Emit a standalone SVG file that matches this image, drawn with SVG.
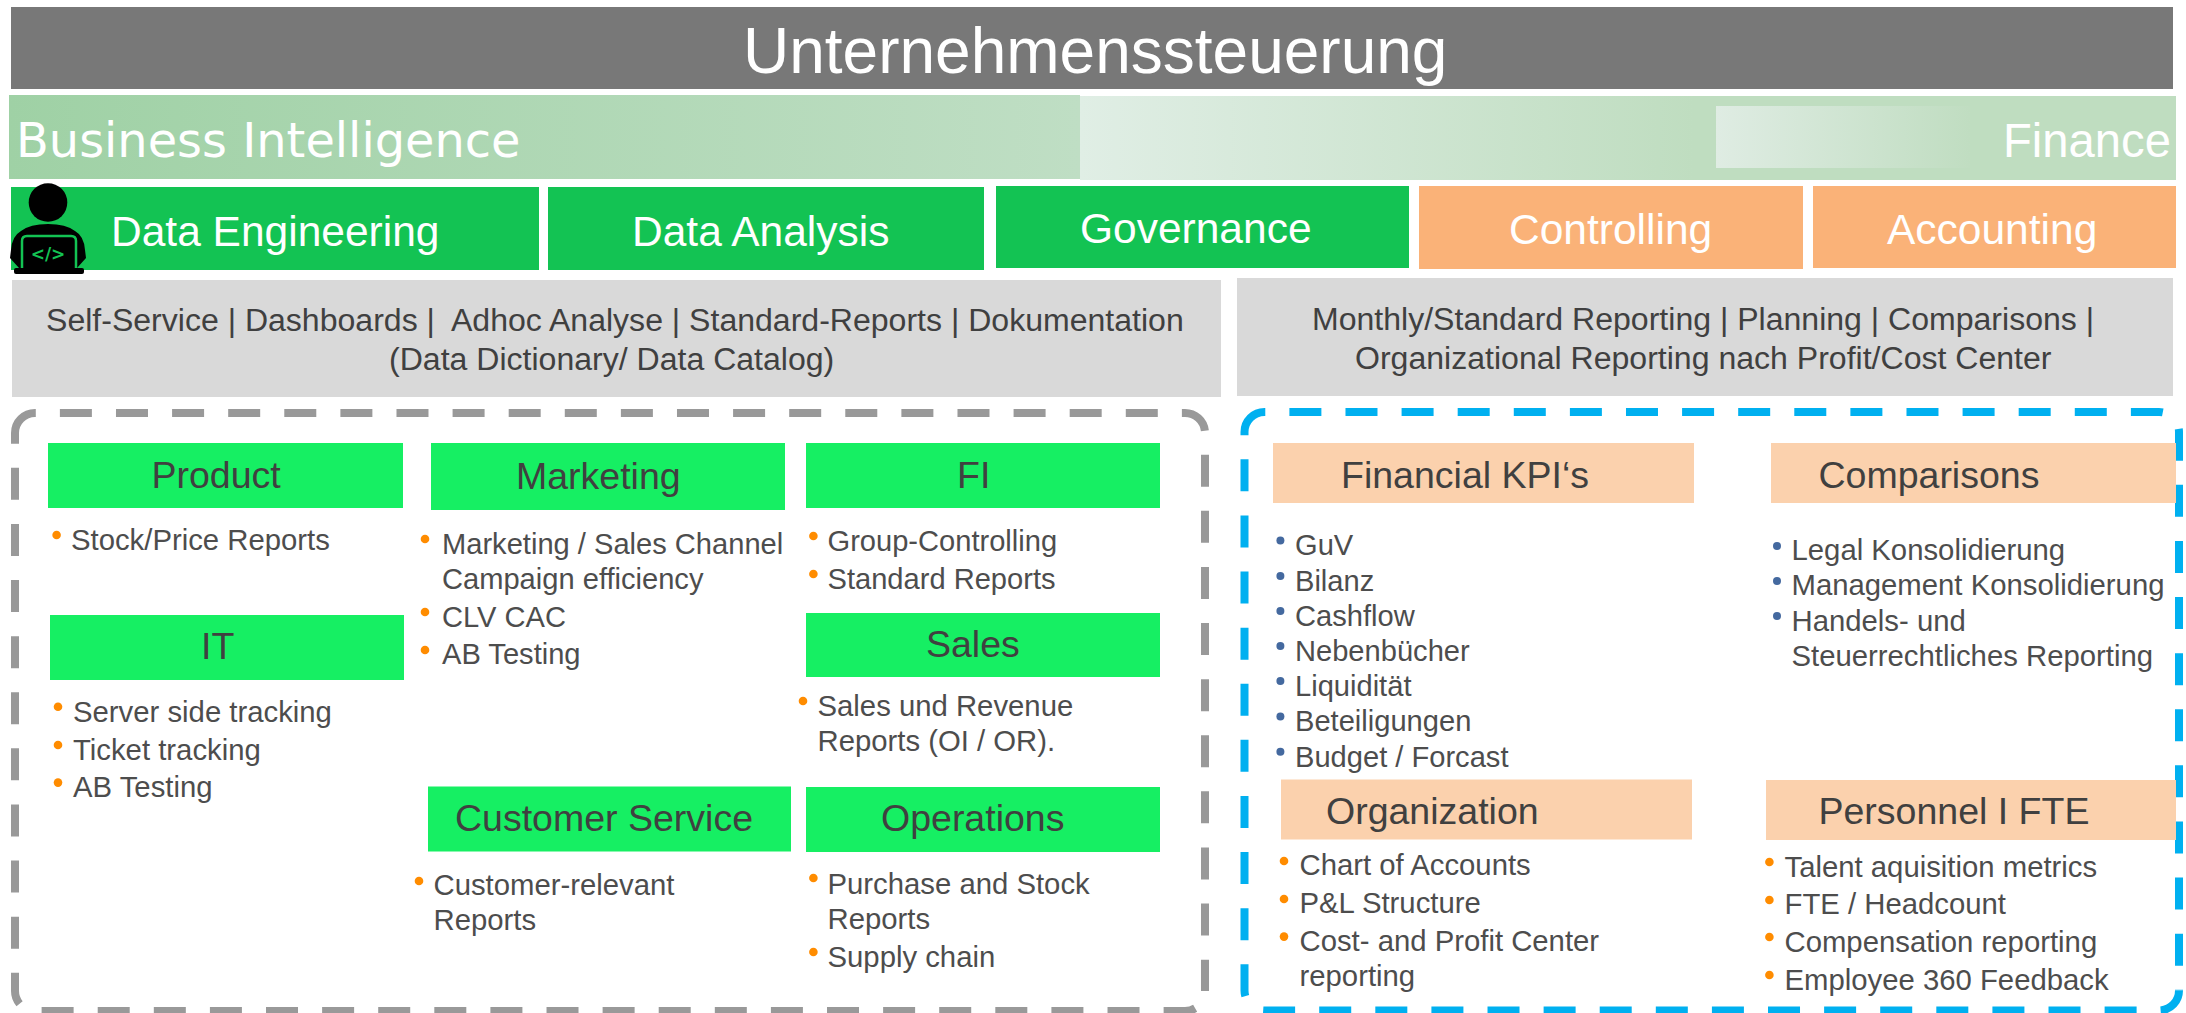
<svg xmlns="http://www.w3.org/2000/svg" width="2186" height="1013" viewBox="0 0 2186 1013">
<style>
text{font-family:"Liberation Sans",Arial,sans-serif}
.w{fill:#fff}
.h{fill:#fff;font-size:42.5px}
.g{fill:#404040;font-size:32.05px}
.s{fill:#404040;font-size:37.5px}
.t{fill:#4d4d4d;font-size:29.3px}
.t2{fill:#4d4d4d;font-size:29.1px}
.gr{fill:#13c353}
.or{fill:#fab278}
.lg{fill:#16ef63}
.pe{fill:#fbd1ad}
.gy{fill:#d9d9d9}
.o{fill:#ff8c00}
.n{fill:#44699f}
.fr{fill:none;stroke-width:8;stroke-dasharray:32 24.1}
.fg{stroke:#999}
.fb{stroke:#00b0f0}
</style>
<defs>
<linearGradient id="g1" x1="0" x2="1" y1="0" y2="0"><stop offset="0" stop-color="#9fd1a5"/><stop offset="1" stop-color="#bfdec4"/></linearGradient>
<linearGradient id="g2" x1="0" x2="1" y1="0" y2="0"><stop offset="0" stop-color="#e0eee5"/><stop offset="0.56" stop-color="#bfddc0"/><stop offset="1" stop-color="#bfddc0"/></linearGradient>
<linearGradient id="g3" x1="0" x2="1" y1="0" y2="0"><stop offset="0" stop-color="#dfece3"/><stop offset="1" stop-color="#c0ddc1"/></linearGradient>
</defs>
<rect width="2186" height="1013" fill="#fff"/>
<g id="title"><rect x="11" y="7" width="2162" height="82" fill="#787878"/><text class="w" x="743" y="73" font-size="64">Unternehmenssteuerung</text></g>
<g id="band-finance"><rect x="1080" y="96" width="1096" height="84" fill="url(#g2)"/><rect x="1716" y="106" width="254" height="62" fill="url(#g3)"/><text class="w" x="2003" y="157" font-size="47.2">Finance</text></g>
<g id="band-bi"><rect x="9" y="95" width="1071" height="84" fill="url(#g1)"/><text class="w" x="16" y="157" font-size="47.85" style="font-family:'DejaVu Sans',sans-serif">Business Intelligence</text></g>
<g id="data-engineering"><rect class="gr" x="11" y="187" width="528" height="83"/><text class="h" x="111" y="246">Data Engineering</text></g>
<g id="data-analysis"><rect class="gr" x="548" y="187" width="436" height="83"/><text class="h" x="632" y="246">Data Analysis</text></g>
<g id="governance"><rect class="gr" x="996" y="186" width="413" height="82"/><text class="h" x="1080" y="243">Governance</text></g>
<g id="controlling"><rect class="or" x="1419" y="186" width="384" height="83"/><text class="h" x="1509" y="244">Controlling</text></g>
<g id="accounting"><rect class="or" x="1813" y="186" width="363" height="82"/><text class="h" x="1887" y="244">Accounting</text></g>
<g id="developer-icon">
<circle cx="48" cy="202.5" r="19.3" fill="#000"/>
<path d="M21 231Q30 224 48 224Q66 224 75 231Q84 236 85 250L86 258L77 268V274H19V268L10 258L11 250Q12 236 21 231Z" fill="#000"/>
<path d="M22 271V241Q22 236 27 236H71Q76 236 76 241V271" fill="none" stroke="#13c353" stroke-width="2.5"/>
<rect x="14" y="268" width="70" height="6" rx="2" fill="#000"/>
<text x="48" y="260" font-size="17" font-weight="bold" text-anchor="middle" fill="#13c353" style="font-family:'DejaVu Sans',sans-serif">&lt;/&gt;</text>
</g>
<g id="bi-summary"><rect class="gy" x="12" y="280" width="1209" height="117"/><text class="g" xml:space="preserve" x="46" y="331">Self-Service | Dashboards |  Adhoc Analyse | Standard-Reports | Dokumentation</text><text class="g" x="389" y="370">(Data Dictionary/ Data Catalog)</text></g>
<g id="finance-summary"><rect class="gy" x="1237" y="278" width="936" height="118"/><text class="g" x="1312" y="330">Monthly/Standard Reporting | Planning | Comparisons |</text><text class="g" x="1355" y="369">Organizational Reporting nach Profit/Cost Center</text></g>
<g id="connectors">
<path class="fr fg" d="M15 433A20 20 0 0 1 35 413H1185A20 20 0 0 1 1205 433V991"/>
<path class="fr fg" stroke-dashoffset="35.5" d="M1205 991A20 20 0 0 1 1185 1011H35A20 20 0 0 1 15 991V433"/>
<path class="fr fb" d="M1244.5 432A20 20 0 0 1 1264.5 412H2159A20 20 0 0 1 2179 432V990.5"/>
<path class="fr fb" stroke-dashoffset="2.5" d="M2179 990.5A20 20 0 0 1 2159 1010.5H1264.5A20 20 0 0 1 1244.5 990.5V432"/>
</g>
<g id="product" transform="translate(0,1)"><rect class="lg" x="48" y="442" width="355" height="65"/><text class="s" x="151.5" y="487">Product</text><circle class="o" cx="56.6" cy="534" r="4.3"/><text class="t" x="71" y="548.5">Stock/Price Reports</text></g>
<g id="it" transform="translate(0,1)"><rect class="lg" x="50" y="614" width="354" height="65"/><text class="s" x="201" y="658">IT</text><circle class="o" cx="58" cy="705.7" r="4.3"/><text class="t" x="73" y="720.5">Server side tracking</text><circle class="o" cx="58" cy="744" r="4.3"/><text class="t" x="73" y="758.5">Ticket tracking</text><circle class="o" cx="58" cy="781.6" r="4.3"/><text class="t" x="73" y="796">AB Testing</text></g>
<g id="marketing" transform="translate(0,1)"><rect class="lg" x="431" y="442" width="354" height="67"/><text class="s" x="516" y="488">Marketing</text><circle class="o" cx="425" cy="538" r="4.3"/><text class="t2" x="442" y="552.5">Marketing / Sales Channel</text><text class="t2" x="442" y="587.6">Campaign efficiency</text><circle class="o" cx="425" cy="611" r="4.3"/><text class="t2" x="442" y="625.6">CLV CAC</text><circle class="o" cx="425" cy="649" r="4.3"/><text class="t2" x="442" y="663">AB Testing</text></g>
<g id="customer-service" transform="translate(0,1)"><rect class="lg" x="428" y="785.5" width="363" height="65"/><text class="s" x="455" y="830">Customer Service</text><circle class="o" cx="419" cy="880" r="4.3"/><text class="t" x="433.5" y="894">Customer-relevant</text><text class="t" x="433.5" y="928.5">Reports</text></g>
<g id="fi" transform="translate(0,1)"><rect class="lg" x="806" y="442" width="354" height="65"/><text class="s" x="957" y="487">FI</text><circle class="o" cx="813.4" cy="535" r="4.3"/><text class="t2" x="827.5" y="550">Group-Controlling</text><circle class="o" cx="813.4" cy="573" r="4.3"/><text class="t2" x="827.5" y="588">Standard Reports</text></g>
<g id="sales" transform="translate(0,1)"><rect class="lg" x="806" y="612" width="354" height="64"/><text class="s" x="926" y="656">Sales</text><circle class="o" cx="803" cy="700" r="4.3"/><text class="t" x="817.5" y="715">Sales und Revenue</text><text class="t" x="817.5" y="750">Reports (OI / OR).</text></g>
<g id="operations" transform="translate(0,1)"><rect class="lg" x="806" y="786" width="354" height="65"/><text class="s" x="881" y="830">Operations</text><circle class="o" cx="813.4" cy="877" r="4.3"/><text class="t" x="827.5" y="892.5">Purchase and Stock</text><text class="t" x="827.5" y="928">Reports</text><circle class="o" cx="813.4" cy="951" r="4.3"/><text class="t" x="827.5" y="966">Supply chain</text></g>
<g id="financial-kpis" transform="translate(0,1)"><rect class="pe" x="1273" y="442" width="421" height="60"/><text class="s" x="1341" y="487">Financial KPI‘s</text>
<circle class="n" cx="1280.4" cy="539.6" r="4"/><text class="t2" x="1295" y="554">GuV</text>
<circle class="n" cx="1280.4" cy="575" r="4"/><text class="t2" x="1295" y="589.6">Bilanz</text>
<circle class="n" cx="1280.4" cy="610" r="4"/><text class="t2" x="1295" y="625">Cashflow</text>
<circle class="n" cx="1280.4" cy="645" r="4"/><text class="t2" x="1295" y="660">Nebenbücher</text>
<circle class="n" cx="1280.4" cy="680" r="4"/><text class="t2" x="1295" y="695">Liquidität</text>
<circle class="n" cx="1280.4" cy="715.5" r="4"/><text class="t2" x="1295" y="730">Beteiligungen</text>
<circle class="n" cx="1280.4" cy="750.7" r="4"/><text class="t2" x="1295" y="765.5">Budget / Forcast</text></g>
<g id="comparisons" transform="translate(0,1)"><rect class="pe" x="1771" y="442" width="405" height="60"/><text class="s" x="1818.5" y="487">Comparisons</text>
<circle class="n" cx="1777" cy="545" r="4"/><text class="t" x="1791.5" y="559">Legal Konsolidierung</text>
<circle class="n" cx="1777" cy="580" r="4"/><text class="t" x="1791.5" y="594">Management Konsolidierung</text>
<circle class="n" cx="1777" cy="615" r="4"/><text class="t" x="1791.5" y="629.5">Handels- und</text><text class="t" x="1791.5" y="664.7">Steuerrechtliches Reporting</text></g>
<g id="organization" transform="translate(0,1)"><rect class="pe" x="1281" y="778.5" width="411" height="60"/><text class="s" x="1326" y="823">Organization</text>
<circle class="o" cx="1284" cy="860" r="4.3"/><text class="t" x="1299.5" y="874">Chart of Accounts</text>
<circle class="o" cx="1284" cy="898" r="4.3"/><text class="t" x="1299.5" y="912">P&amp;L Structure</text>
<circle class="o" cx="1284" cy="935.6" r="4.3"/><text class="t" x="1299.5" y="950">Cost- and Profit Center</text><text class="t" x="1299.5" y="985">reporting</text></g>
<g id="personnel" transform="translate(0,1)"><rect class="pe" x="1766" y="779" width="410" height="60"/><text class="s" x="1818.5" y="823">Personnel I FTE</text>
<circle class="o" cx="1769.4" cy="861" r="4.3"/><text class="t" x="1784.5" y="876">Talent aquisition metrics</text>
<circle class="o" cx="1769.4" cy="899" r="4.3"/><text class="t" x="1784.5" y="913">FTE / Headcount</text>
<circle class="o" cx="1769.4" cy="936" r="4.3"/><text class="t" x="1784.5" y="951">Compensation reporting</text>
<circle class="o" cx="1769.4" cy="974" r="4.3"/><text class="t" x="1784.5" y="989">Employee 360 Feedback</text></g>
</svg>
